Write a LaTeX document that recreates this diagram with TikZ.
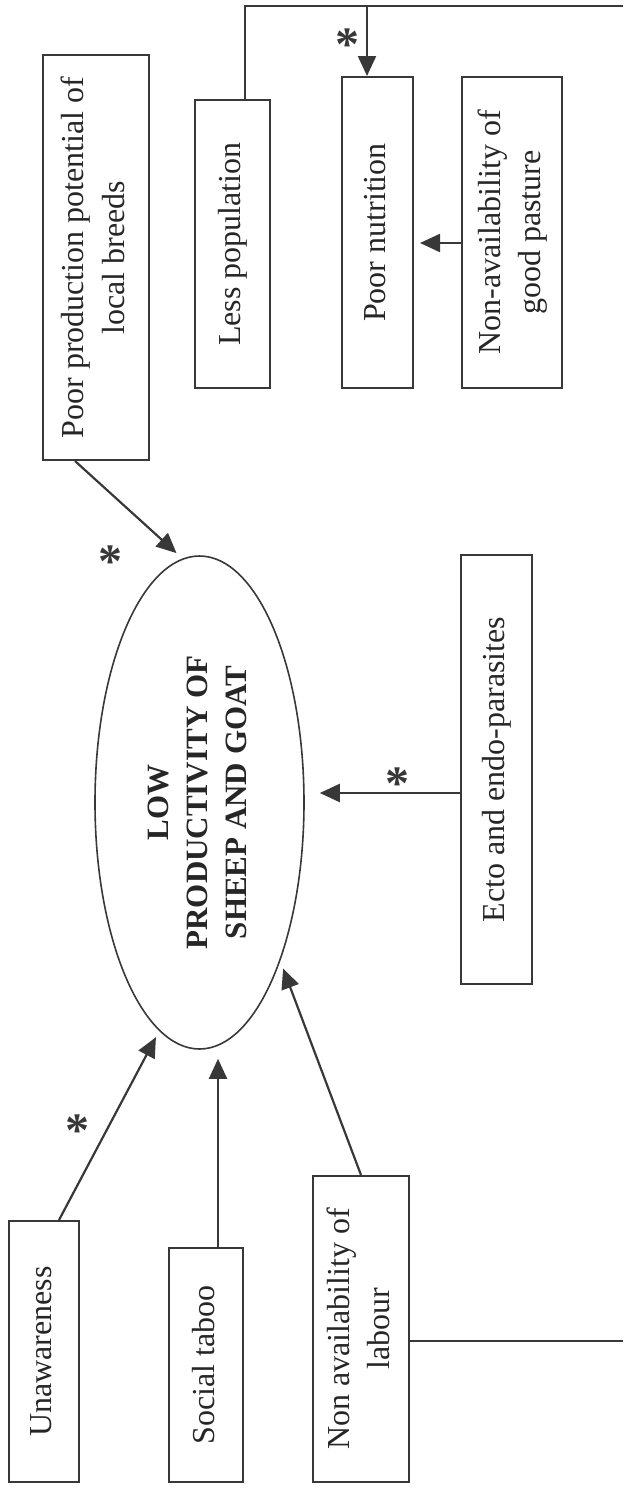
\documentclass[tikz,border=0pt]{standalone}
\usepackage{fontspec}
\setmainfont{Liberation Serif}
\usepackage{graphicx}
\usetikzlibrary{arrows.meta,shapes.geometric}
\newcommand{\vtext}[1]{\rotatebox{90}{\begin{tabular}{@{}c@{}}#1\end{tabular}}}

\begin{document}
\begin{tikzpicture}[x=0.5pt,y=-0.5pt,>={Triangle[length=10pt,width=9pt]},
    ink/.style={draw=black!78,line width=1pt},
    box/.style 2 args={ink,rectangle,inner sep=0pt,minimum width=#1,minimum height=#2,
      font=\fontsize{16}{20}\selectfont,text=black!85},
    link/.style={draw=black!78,line width=1.1pt},
    starmark/.style={font=\fontsize{24}{24}\selectfont\bfseries,text=black!78,inner sep=0pt,yshift=-4pt}]
  \useasboundingbox (0,0) rectangle (623,1488);
  % causes above the ellipse
  \node[box={53pt}{202.5pt}] (poorprod) at (96,257.5) {\vtext{Poor production potential of\\local breeds}};
  \node[box={37.5pt}{144pt}] (lesspop) at (232.5,244) {\vtext{Less population}};
  \node[box={35.5pt}{155.5pt}] (nutr) at (377.5,232.5) {\vtext{Poor nutrition}};
  \node[box={50pt}{155.5pt}] (pasture) at (512,232.5) {\vtext{Non-availability of\\good pasture}};
  % centre
  \node[ellipse,ink,line width=0.8pt,inner sep=0pt,minimum width=104.5pt,minimum height=246.5pt,
    font=\fontsize{15.5}{19.5}\selectfont\bfseries,text=black!85] (prod) at (199.5,802.5)
    {\vtext{LOW\\PRODUCTIVITY OF\\SHEEP AND GOAT}};
  \node[box={35.5pt}{214.5pt}] (ecto) at (496.5,769.5) {\vtext{Ecto and endo-parasites}};
  % causes below the ellipse
  \node[box={35pt}{130.5pt}] (unaware) at (44,1351.5) {\vtext{Unawareness}};
  \node[box={37pt}{117pt}] (taboo) at (206,1365) {\vtext{Social taboo}};
  \node[box={48pt}{153pt}] (labour) at (361,1329) {\vtext{Non availability of\\labour}};

  \coordinate (topR) at (623,6);
  \coordinate (botR) at (623,1341);
  \coordinate (popout) at ([xshift=6.25pt]lesspop.north);
  \coordinate (nutrin) at ([xshift=-5.25pt]nutr.north);
  \coordinate (pastout) at ([yshift=-5.25pt]pasture.west);
  \coordinate (ectout) at ([yshift=-11.75pt]ecto.west);
  \coordinate (tabout) at ([xshift=6pt]taboo.north);
  \coordinate (unout) at ([xshift=7.5pt]unaware.north);
  \coordinate (poorout) at ([xshift=-10.5pt]poorprod.south);
  \coordinate (labout) at ([yshift=-6pt]labour.east);

  \draw[link] (popout) |- (topR);
  \draw[link,->] (nutrin |- topR) -- (nutrin);
  \draw[link,->,shorten >=3pt] (pastout) -- (pastout -| nutr.east);
  \draw[link,->,shorten >=4pt] (poorout) -- (prod.94);
  \draw[link,->,shorten >=7.5pt] (ectout) -- (ectout -| prod.east);
  \draw[link,->,shorten >=3.5pt] (unout) -- (prod.260);
  \draw[link,->,shorten >=4.5pt] (tabout) -- (tabout |- prod.south);
  \draw[link,->,shorten >=4pt] (labour.north) -- (prod.297);
  \draw[link] (labout) -- (botR);

  \node[starmark] (st1) at (347,37) {*};
  \node[starmark] (st2) at (110,554) {*};
  \node[starmark] (st3) at (397,776) {*};
  \node[starmark] (st4) at (77,1123) {*};
\end{tikzpicture}
\end{document}
